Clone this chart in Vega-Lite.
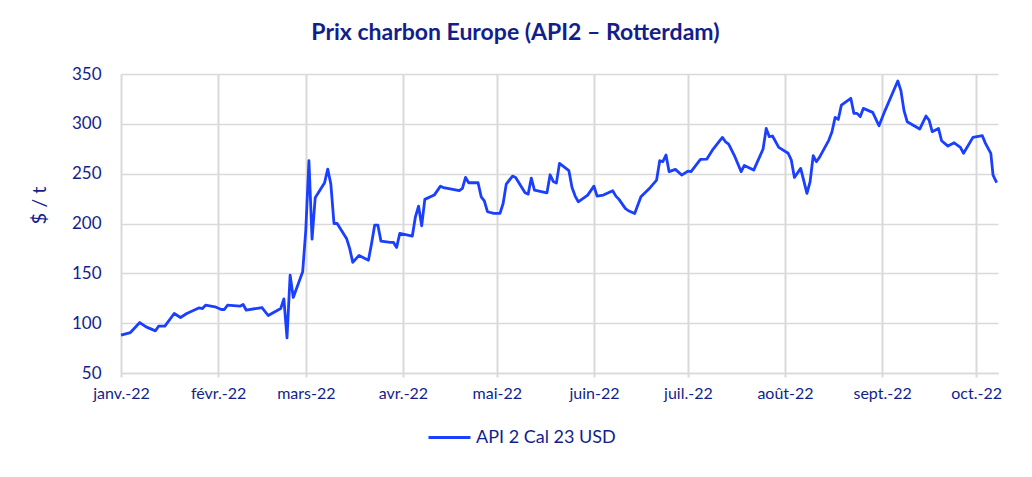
{
  "$schema": "https://vega.github.io/schema/vega-lite/v6.json",
  "width": 877,
  "height": 299,
  "padding": {"left": 29, "top": 22, "right": 29, "bottom": 10},
  "background": "white",
  "title": {
    "text": "Prix charbon Europe (API2 – Rotterdam)",
    "font": "Lato",
    "fontSize": 23,
    "fontWeight": "bold",
    "color": "#121E8C",
    "anchor": "middle",
    "frame": "bounds",
    "offset": 20
  },
  "data": {
    "values": [
      {"date": "2022-01-01", "price": 88.0},
      {"date": "2022-01-04", "price": 90.6},
      {"date": "2022-01-07", "price": 100.6},
      {"date": "2022-01-09", "price": 96.3},
      {"date": "2022-01-12", "price": 92.3},
      {"date": "2022-01-13", "price": 97.0},
      {"date": "2022-01-15", "price": 97.0},
      {"date": "2022-01-18", "price": 109.7},
      {"date": "2022-01-20", "price": 105.7},
      {"date": "2022-01-22", "price": 109.7},
      {"date": "2022-01-26", "price": 115.4},
      {"date": "2022-01-27", "price": 114.7},
      {"date": "2022-01-28", "price": 118.0},
      {"date": "2022-01-31", "price": 116.4},
      {"date": "2022-02-02", "price": 113.7},
      {"date": "2022-02-03", "price": 113.7},
      {"date": "2022-02-04", "price": 118.0},
      {"date": "2022-02-08", "price": 117.0},
      {"date": "2022-02-09", "price": 118.7},
      {"date": "2022-02-10", "price": 113.0},
      {"date": "2022-02-15", "price": 115.7},
      {"date": "2022-02-17", "price": 107.7},
      {"date": "2022-02-21", "price": 114.7},
      {"date": "2022-02-22", "price": 124.4},
      {"date": "2022-02-23", "price": 85.2},
      {"date": "2022-02-24", "price": 148.2},
      {"date": "2022-02-25", "price": 125.8},
      {"date": "2022-02-28", "price": 151.5},
      {"date": "2022-03-01", "price": 193.4},
      {"date": "2022-03-02", "price": 263.0},
      {"date": "2022-03-03", "price": 184.3},
      {"date": "2022-03-04", "price": 225.8},
      {"date": "2022-03-07", "price": 240.9},
      {"date": "2022-03-08", "price": 254.6},
      {"date": "2022-03-09", "price": 239.5},
      {"date": "2022-03-10", "price": 200.0},
      {"date": "2022-03-11", "price": 200.0},
      {"date": "2022-03-14", "price": 185.0},
      {"date": "2022-03-15", "price": 175.0},
      {"date": "2022-03-16", "price": 161.0},
      {"date": "2022-03-18", "price": 168.0},
      {"date": "2022-03-21", "price": 163.2},
      {"date": "2022-03-22", "price": 180.0},
      {"date": "2022-03-23", "price": 198.4},
      {"date": "2022-03-24", "price": 198.4},
      {"date": "2022-03-25", "price": 182.3},
      {"date": "2022-03-28", "price": 181.0},
      {"date": "2022-03-29", "price": 181.0},
      {"date": "2022-03-30", "price": 176.0},
      {"date": "2022-03-31", "price": 190.0},
      {"date": "2022-04-04", "price": 187.3},
      {"date": "2022-04-05", "price": 206.7},
      {"date": "2022-04-06", "price": 217.5},
      {"date": "2022-04-07", "price": 197.7},
      {"date": "2022-04-08", "price": 224.2},
      {"date": "2022-04-11", "price": 228.5},
      {"date": "2022-04-13", "price": 237.5},
      {"date": "2022-04-14", "price": 235.9},
      {"date": "2022-04-19", "price": 232.9},
      {"date": "2022-04-20", "price": 235.2},
      {"date": "2022-04-21", "price": 246.2},
      {"date": "2022-04-22", "price": 240.9},
      {"date": "2022-04-25", "price": 240.9},
      {"date": "2022-04-26", "price": 226.8},
      {"date": "2022-04-27", "price": 222.8},
      {"date": "2022-04-28", "price": 211.8},
      {"date": "2022-04-30", "price": 210.1},
      {"date": "2022-05-02", "price": 210.1},
      {"date": "2022-05-03", "price": 220.1},
      {"date": "2022-05-04", "price": 239.5},
      {"date": "2022-05-06", "price": 247.6},
      {"date": "2022-05-07", "price": 246.2},
      {"date": "2022-05-10", "price": 230.8},
      {"date": "2022-05-11", "price": 229.5},
      {"date": "2022-05-12", "price": 245.6},
      {"date": "2022-05-13", "price": 233.5},
      {"date": "2022-05-17", "price": 230.8},
      {"date": "2022-05-18", "price": 248.9},
      {"date": "2022-05-19", "price": 242.2},
      {"date": "2022-05-20", "price": 240.5},
      {"date": "2022-05-21", "price": 260.3},
      {"date": "2022-05-24", "price": 253.0},
      {"date": "2022-05-25", "price": 236.2},
      {"date": "2022-05-26", "price": 227.5},
      {"date": "2022-05-27", "price": 221.8},
      {"date": "2022-05-30", "price": 228.5},
      {"date": "2022-06-01", "price": 237.5},
      {"date": "2022-06-02", "price": 227.5},
      {"date": "2022-06-04", "price": 228.5},
      {"date": "2022-06-07", "price": 232.9},
      {"date": "2022-06-08", "price": 227.5},
      {"date": "2022-06-09", "price": 224.2},
      {"date": "2022-06-11", "price": 215.2},
      {"date": "2022-06-12", "price": 212.8},
      {"date": "2022-06-14", "price": 210.1},
      {"date": "2022-06-16", "price": 226.8},
      {"date": "2022-06-19", "price": 236.2},
      {"date": "2022-06-21", "price": 243.6},
      {"date": "2022-06-22", "price": 263.0},
      {"date": "2022-06-23", "price": 262.0},
      {"date": "2022-06-24", "price": 268.7},
      {"date": "2022-06-25", "price": 252.0},
      {"date": "2022-06-27", "price": 254.3},
      {"date": "2022-06-29", "price": 248.6},
      {"date": "2022-07-01", "price": 252.6},
      {"date": "2022-07-02", "price": 252.0},
      {"date": "2022-07-05", "price": 264.3},
      {"date": "2022-07-07", "price": 264.5},
      {"date": "2022-07-09", "price": 274.4},
      {"date": "2022-07-12", "price": 286.4},
      {"date": "2022-07-13", "price": 282.0},
      {"date": "2022-07-14", "price": 279.7},
      {"date": "2022-07-16", "price": 267.0},
      {"date": "2022-07-18", "price": 252.0},
      {"date": "2022-07-19", "price": 258.3},
      {"date": "2022-07-22", "price": 253.6},
      {"date": "2022-07-25", "price": 274.7},
      {"date": "2022-07-26", "price": 295.4},
      {"date": "2022-07-27", "price": 287.1},
      {"date": "2022-07-28", "price": 287.8},
      {"date": "2022-07-30", "price": 276.4},
      {"date": "2022-08-02", "price": 270.5},
      {"date": "2022-08-03", "price": 263.8},
      {"date": "2022-08-04", "price": 246.2},
      {"date": "2022-08-06", "price": 255.3},
      {"date": "2022-08-08", "price": 230.2},
      {"date": "2022-08-09", "price": 241.8},
      {"date": "2022-08-10", "price": 268.0},
      {"date": "2022-08-11", "price": 262.0},
      {"date": "2022-08-12", "price": 266.3},
      {"date": "2022-08-15", "price": 283.7},
      {"date": "2022-08-16", "price": 292.1},
      {"date": "2022-08-17", "price": 306.5},
      {"date": "2022-08-18", "price": 304.4},
      {"date": "2022-08-19", "price": 318.8},
      {"date": "2022-08-22", "price": 325.6},
      {"date": "2022-08-23", "price": 310.5},
      {"date": "2022-08-24", "price": 310.5},
      {"date": "2022-08-25", "price": 307.2},
      {"date": "2022-08-26", "price": 315.5},
      {"date": "2022-08-29", "price": 311.5},
      {"date": "2022-08-31", "price": 298.1},
      {"date": "2022-09-02", "price": 313.8},
      {"date": "2022-09-06", "price": 343.0},
      {"date": "2022-09-07", "price": 333.3},
      {"date": "2022-09-08", "price": 313.2},
      {"date": "2022-09-09", "price": 302.1},
      {"date": "2022-09-13", "price": 294.8},
      {"date": "2022-09-15", "price": 307.8},
      {"date": "2022-09-16", "price": 303.8},
      {"date": "2022-09-17", "price": 292.1},
      {"date": "2022-09-19", "price": 295.4},
      {"date": "2022-09-20", "price": 283.0},
      {"date": "2022-09-22", "price": 277.7},
      {"date": "2022-09-24", "price": 281.0},
      {"date": "2022-09-26", "price": 276.4},
      {"date": "2022-09-27", "price": 270.4},
      {"date": "2022-09-30", "price": 286.4},
      {"date": "2022-10-03", "price": 288.1},
      {"date": "2022-10-04", "price": 280.4},
      {"date": "2022-10-05T17:00:00Z", "price": 270.4},
      {"date": "2022-10-06T10:00:00Z", "price": 248.6},
      {"date": "2022-10-07T14:00:00Z", "price": 241.1}
    ]
  },
  "mark": {"type": "line", "strokeWidth": 2.8, "strokeJoin": "round", "interpolate": "linear"},
  "encoding": {
    "x": {
      "field": "date",
      "type": "temporal",
      "scale": {
        "type": "utc",
        "domain": [
          {"year": 2022, "month": 1, "date": 1, "utc": true},
          {"year": 2022, "month": 10, "date": 8, "utc": true}
        ]
      },
      "axis": {
        "title": null,
        "tickCount": {"interval": "month", "step": 1},
        "labelExpr": "['janv.','févr.','mars','avr.','mai','juin','juil.','août','sept.','oct.','nov.','déc.'][utcmonth(datum.value)] + '-22'",
        "labelFlush": false,
        "labelOverlap": false,
        "grid": true,
        "gridColor": "#d9d9d9",
        "gridWidth": 2,
        "domain": true,
        "domainColor": "#d9d9d9",
        "domainWidth": 1.5,
        "ticks": true,
        "tickColor": "#d9d9d9",
        "tickWidth": 2,
        "tickSize": 4,
        "labelPadding": 8,
        "labelFont": "Lato",
        "labelFontSize": 16,
        "labelColor": "#121E8C"
      }
    },
    "y": {
      "field": "price",
      "type": "quantitative",
      "scale": {"domain": [50, 350], "nice": false, "zero": false},
      "axis": {
        "title": "$ / t",
        "titleFont": "Lato",
        "titleFontSize": 20,
        "titleFontWeight": "normal",
        "titleColor": "#121E8C",
        "titlePadding": 22,
        "titleY": 131,
        "values": [50, 100, 150, 200, 250, 300, 350],
        "grid": true,
        "gridColor": "#d9d9d9",
        "gridWidth": 1.3,
        "domain": false,
        "ticks": false,
        "labelPadding": 20,
        "labelFont": "Lato",
        "labelFontSize": 17,
        "labelColor": "#121E8C"
      }
    },
    "color": {
      "datum": "API 2 Cal 23 USD",
      "type": "nominal",
      "scale": {"range": ["#1A3FFF"]},
      "legend": {
        "title": null,
        "orient": "none",
        "legendX": 306,
        "legendY": 341,
        "direction": "horizontal",
        "symbolType": "stroke",
        "symbolSize": 1764,
        "symbolStrokeWidth": 3,
        "labelFont": "Lato",
        "labelFontSize": 18,
        "labelColor": "#121E8C"
      }
    }
  },
  "config": {
    "view": {"stroke": null}
  }
}
